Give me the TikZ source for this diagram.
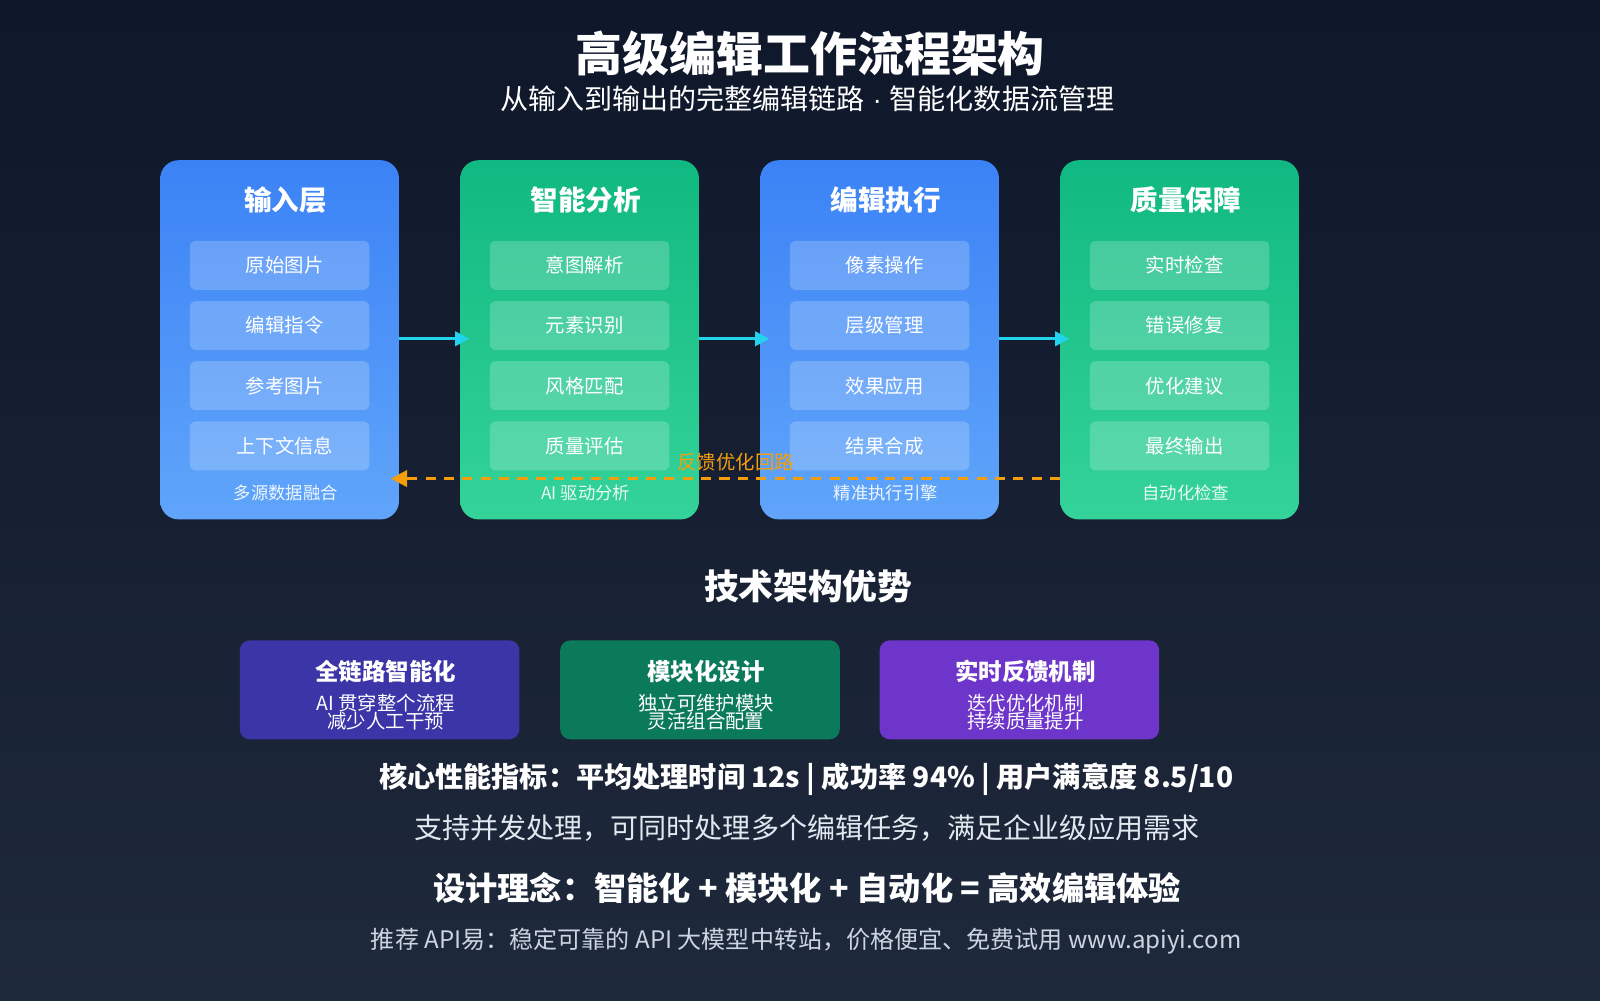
\documentclass[tikz,border=0pt]{standalone}
\usepackage{fontspec}
\setmainfont{Noto Sans CJK SC}
\newfontfamily\latf{Liberation Sans}
\usetikzlibrary{arrows.meta}
\definecolor{bgA}{HTML}{0F172A}\definecolor{bgB}{HTML}{1E293B}
\definecolor{blA}{HTML}{3B82F6}\definecolor{blB}{HTML}{60A5FA}
\definecolor{grA}{HTML}{10B981}\definecolor{grB}{HTML}{34D399}
\definecolor{cy}{HTML}{22D3EE}\definecolor{orng}{HTML}{F59E0B}
\definecolor{indg}{HTML}{3B35A8}\definecolor{grD}{HTML}{0B7A5A}\definecolor{purp}{HTML}{6D35C9}
\definecolor{lgray}{HTML}{E2E8F0}\definecolor{mgray}{HTML}{CBD5E1}
\tikzset{
 item/.style={rounded corners=6pt,fill=white,fill opacity=0.2,text opacity=1,text=white,minimum width=176pt,minimum height=48pt,font=\fontsize{19}{19}\selectfont},
 ltitle/.style={text=white,font=\fontsize{27}{27}\selectfont\bfseries},
 lfoot/.style={text=white,text opacity=0.9,font=\fontsize{17}{17}\selectfont},
 flow/.style={cy,line width=3pt,-{Triangle[length=14pt,width=14pt]}},
 adv/.style={rounded corners=10pt,minimum width=274pt,minimum height=97pt},
 advt/.style={text=white,font=\fontsize{23}{23}\selectfont\bfseries},
 advl/.style={text=white,font=\fontsize{19}{18}\selectfont,align=center},
}
\begin{document}
\begin{tikzpicture}[x=1pt,y=-1pt]
\shade[top color=bgA,bottom color=bgB] (0,0) rectangle (1568,980);
\useasboundingbox (0,0) rectangle (1568,980);
\node (title) at (794,52) {\color{white}\fontsize{46}{46}\selectfont\bfseries 高级编辑工作流程架构};
\node (sub) at (791,97) {\color{white}\fontsize{27.5}{27.5}\selectfont 从输入到输出的完整编辑链路{\latf\ ·\ }智能化数据流管理};
\newcommand\items[6]{%
 \node[item] (#1a) at (#2,260) {#3};
 \node[item] (#1b) at (#2,319) {#4};
 \node[item] (#1c) at (#2,378) {#5};
 \node[item] (#1d) at (#2,437) {#6};}
\shade[rounded corners=18pt,top color=blA,bottom color=blB] (157,157) rectangle (391,509);
\shade[rounded corners=18pt,top color=grA,bottom color=grB] (451,157) rectangle (685,509);
\shade[rounded corners=18pt,top color=blA,bottom color=blB] (745,157) rectangle (979,509);
\shade[rounded corners=18pt,top color=grA,bottom color=grB] (1039,157) rectangle (1273,509);
\coordinate (L1r) at (391,332);\coordinate (L2l) at (460,332);
\coordinate (L2r) at (685,332);\coordinate (L3l) at (754,332);
\coordinate (L3r) at (979,332);\coordinate (L4l) at (1048,332);
\coordinate (fbS) at (1039,469);\coordinate (fbE) at (383,469);
\node[ltitle] (t1) at (280,196) {输入层};
\node[ltitle] (t2) at (574,196) {智能分析};
\node[ltitle] (t3) at (868,196) {编辑执行};
\node[ltitle] (t4) at (1162,196) {质量保障};
\items{p}{274}{\hspace*{10pt}原始图片}{\hspace*{10pt}编辑指令}{\hspace*{10pt}参考图片}{\hspace*{10pt}上下文信息}
\items{q}{568}{\hspace*{10pt}意图解析}{\hspace*{10pt}元素识别}{\hspace*{10pt}风格匹配}{\hspace*{10pt}质量评估}
\items{r}{862}{\hspace*{10pt}像素操作}{\hspace*{10pt}层级管理}{\hspace*{10pt}效果应用}{\hspace*{10pt}结果合成}
\items{s}{1156}{\hspace*{10pt}实时检查}{\hspace*{10pt}错误修复}{\hspace*{10pt}优化建议}{\hspace*{10pt}最终输出}
\node[lfoot] (f1) at (280,483) {多源数据融合};
\node[lfoot] (f2) at (574,483) {AI 驱动分析};
\node[lfoot] (f3) at (868,483) {精准执行引擎};
\node[lfoot] (f4) at (1162,483) {自动化检查};
\draw[flow] (L1r) -- (L2l);
\draw[flow] (L2r) -- (L3l);
\draw[flow] (L3r) -- (L4l);
\draw[orng,line width=3pt,dash pattern=on 10pt off 8pt,-{Triangle[length=16pt,width=16pt]}] (fbS) -- (fbE);
\node[text=orng,font=\fontsize{19}{19}\selectfont] (fbl) at (721,453) {反馈优化回路};
\node[text=white,font=\fontsize{34}{34}\selectfont\bfseries] (adv) at (792,575) {技术架构优势};
\node[adv,fill=indg] (a1) at (372,676) {};
\node[adv,fill=grD] (a2) at (686,676) {};
\node[adv,fill=purp] (a3) at (999,676) {};
\node[advt] (a1t) at (378,658) {全链路智能化};
\node[advl] (a1l) at (378,698) {AI 贯穿整个流程\\减少人工干预};
\node[advt] (a2t) at (692,658) {模块化设计};
\node[advl] (a2l) at (692,698) {独立可维护模块\\灵活组合配置};
\node[advt] (a3t) at (1005,658) {实时反馈机制};
\node[advl] (a3l) at (1005,698) {迭代优化机制\\持续质量提升};
\node[text=white,font=\fontsize{27.6}{27.6}\selectfont\bfseries] (m) at (790,764) {核心性能指标：平均处理时间 12s | 成功率 94\% | 用户满意度 8.5/10};
\node[text=lgray,font=\fontsize{27.5}{27.5}\selectfont] (s) at (791,812) {支持并发处理，可同时处理多个编辑任务，满足企业级应用需求};
\node[text=white,font=\fontsize{31.6}{31.6}\selectfont\bfseries] (d) at (791,870) {设计理念：智能化 + 模块化 + 自动化 = 高效编辑体验};
\node[text=mgray,font=\fontsize{23.6}{23.6}\selectfont] (ft) at (790,922) {推荐 API易：稳定可靠的 API 大模型中转站，价格便宜、免费试用 www.apiyi.com};
\end{tikzpicture}
\end{document}
